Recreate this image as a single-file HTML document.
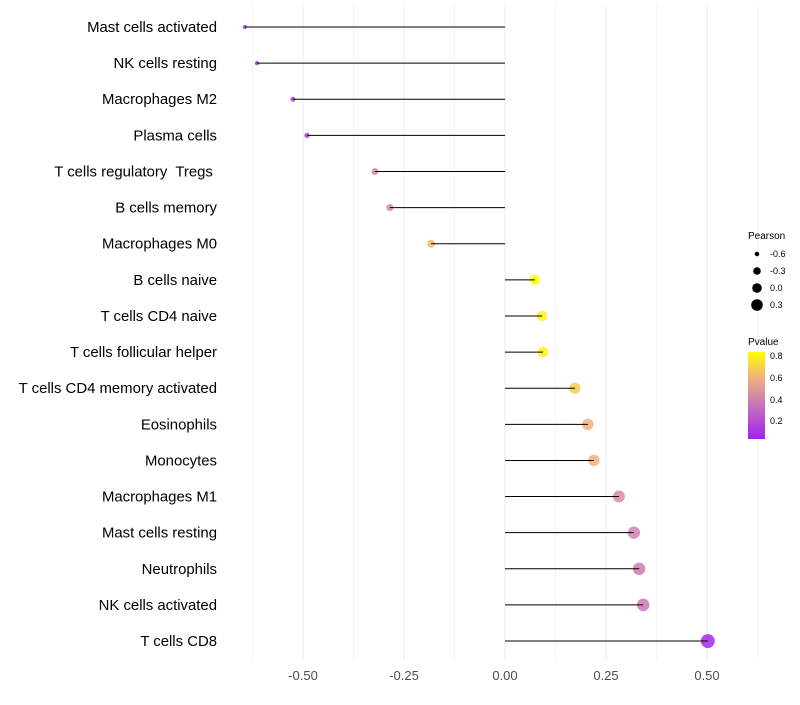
<!DOCTYPE html>
<html><head><meta charset="utf-8"><style>
body{margin:0;background:#fff;font-family:"Liberation Sans",sans-serif}
</style></head><body>
<svg id="chart" width="800" height="700" xmlns="http://www.w3.org/2000/svg">
<defs><linearGradient id="pg" x1="0" y1="1" x2="0" y2="0">
<stop offset="0" stop-color="#A020F0"/><stop offset="0.45" stop-color="#D080B0"/><stop offset="0.7" stop-color="#EEB080"/><stop offset="1" stop-color="#FFFF00"/></linearGradient></defs>
<g id="grid"></g><g id="points"></g><g id="stems"></g><g id="labels"></g>
<g font-size="9">
<text x="748" y="239" font-size="10">Pearson</text>
<circle cx="757" cy="254" r="2.3"/><text x="770" y="257">-0.6</text>
<circle cx="757" cy="271" r="3.8"/><text x="770" y="274">-0.3</text>
<circle cx="757" cy="288" r="4.8"/><text x="770" y="291">0.0</text>
<circle cx="757" cy="305" r="5.8"/><text x="770" y="308">0.3</text>
</g>
<g font-size="9">
<text x="748" y="345" font-size="10">Pvalue</text>
<rect x="748" y="352" width="17" height="87" fill="url(#pg)"/>
<text x="770" y="359">0.8</text><text x="770" y="381">0.6</text><text x="770" y="403">0.4</text><text x="770" y="424">0.2</text>
</g>
</svg>
<script>
const categories=["Mast cells activated","NK cells resting","Macrophages M2","Plasma cells","T cells regulatory  Tregs ","B cells memory","Macrophages M0","B cells naive","T cells CD4 naive","T cells follicular helper","T cells CD4 memory activated","Eosinophils","Monocytes","Macrophages M1","Mast cells resting","Neutrophils","NK cells activated","T cells CD8"];
const pearson=[-0.644,-0.614,-0.525,-0.49,-0.322,-0.285,-0.183,0.074,0.092,0.094,0.173,0.205,0.22,0.282,0.319,0.332,0.342,0.502];
const pvalues=[0.08,0.1,0.12,0.12,0.4,0.43,0.65,0.84,0.8,0.8,0.68,0.6,0.6,0.45,0.4,0.37,0.36,0.06];
const ticks=[-0.5,-0.25,0,0.25,0.5];
const tickLabels=["-0.50","-0.25","0.00","0.25","0.50"];
const NS="http://www.w3.org/2000/svg";
const x=v=>505+v*404, y=i=>27+i*36.12;
const r=v=>2+(v+0.65)*4.3;
function col(p){const t=(p-0.03)/(0.84-0.03);const st=[[0,[160,32,240]],[0.45,[208,128,176]],[0.7,[238,176,128]],[1,[255,255,0]]];
let c=Math.max(0,Math.min(1,t));for(let k=1;k<st.length;k++){if(c<=st[k][0]){const a=st[k-1],b=st[k],f=(c-a[0])/(b[0]-a[0]);return `rgb(${a[1].map((v,j)=>Math.round(v+(b[1][j]-v)*f)).join(',')})`;}}return 'rgb(255,255,0)';}
function mk(t,at,p){const e=document.createElementNS(NS,t);for(const k in at)e.setAttribute(k,at[k]);p.appendChild(e);return e;}
const G=document.getElementById('grid'),P=document.getElementById('points'),S=document.getElementById('stems'),L=document.getElementById('labels');
for(let v=-0.625;v<=0.625;v+=0.125){const l=mk('line',{x1:x(v),x2:x(v),y1:5,y2:660,stroke:'#ebebeb','stroke-width':(Math.abs((v*4)%1)<1e-6)?1:0.5},G);

}
ticks.forEach((v,i)=>{const t=mk('text',{x:x(v),y:680,'text-anchor':'middle','font-size':13,fill:'#4d4d4d'},L);t.textContent=tickLabels[i];

});
categories.forEach((c,i)=>{const t=mk('text',{x:217,y:y(i)+5,'text-anchor':'end','font-size':14.9,fill:'#000'},L);t.textContent=c;
t.setAttributeNS('http://www.w3.org/XML/1998/namespace','xml:space','preserve');


const d=mk('circle',{cx:x(pearson[i]),cy:y(i),r:r(pearson[i]),fill:col(pvalues[i]),'fill-opacity':0.85},P);


const s=mk('line',{x1:x(0),x2:x(pearson[i]),y1:y(i),y2:y(i),stroke:'#000','stroke-width':1},S);

});
</script>
</body></html>
